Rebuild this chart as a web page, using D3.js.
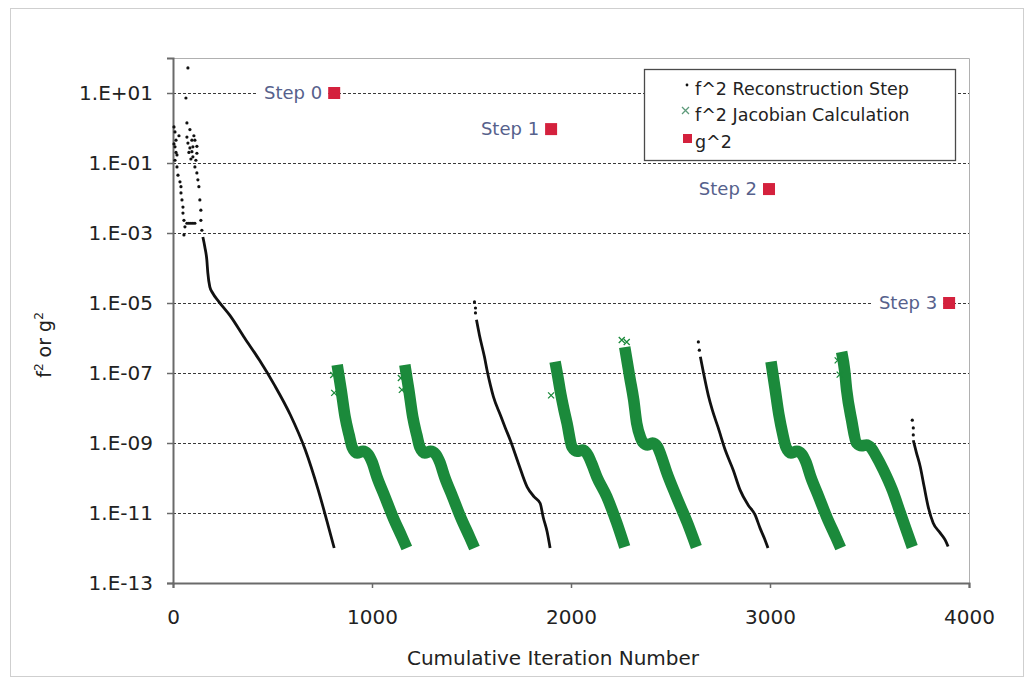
<!DOCTYPE html>
<html>
<head>
<meta charset="utf-8">
<script src="https://cdn.jsdelivr.net/npm/d3@7"></script>
<style>
  body { margin: 0; background: #fff; }
  text { font-family: "DejaVu Sans", sans-serif; }
</style>
</head>
<body>
<div id="chart"></div>
<script>
// ---- data: [iteration, value] ----
var reconNoise = [
  [75, 52], [65, 7.2], [70, 1.4],
  [5, 1.07], [10, 0.77], [15, 0.45], [5, 0.35], [10, 0.29], [15, 0.2], [20, 0.17], [10, 0.12],
  [30, 0.6], [20, 0.077], [25, 0.045], [35, 0.029], [40, 0.021], [40, 0.014], [45, 8.8e-3],
  [50, 5.5e-3], [50, 3.7e-3], [55, 2.3e-3], [60, 1.5e-3], [55, 8.8e-4],
  [70, 1.9e-3], [80, 1.9e-3], [90, 1.9e-3], [100, 1.9e-3], [110, 1.9e-3],
  [70, 0.55], [75, 0.37], [85, 0.27], [95, 0.21], [100, 0.15], [110, 0.45], [115, 0.12],
  [100, 0.29], [95, 0.45], [120, 0.19], [85, 0.9], [105, 0.6], [90, 0.13], [80, 0.2],
  [120, 0.3], [110, 0.077], [120, 0.052], [125, 0.033], [130, 0.021], [135, 8.8e-3],
  [140, 4.5e-3], [140, 2.3e-3], [145, 1.2e-3],
  [1515, 1.07e-5], [1520, 7.2e-6], [1520, 5.2e-6],
  [2640, 7.7e-7], [2645, 4.5e-7],
  [3715, 4.5e-9], [3720, 2.7e-9], [3720, 1.7e-9]
];

var reconStep0 = [[150, 7.7e-4], [160, 4.0e-4], [170, 1.7e-4], [175, 7.2e-5], [185, 2.9e-5],
  [200, 1.9e-5], [230, 1.1e-5], [285, 4.5e-6], [360, 1.0e-6], [435, 2.3e-7],
  [510, 4.5e-8], [590, 6.3e-9], [665, 6.3e-10], [730, 4.5e-11], [780, 4.3e-12], [810, 1e-12]];
var reconStep1 = [[1525, 3.3e-6], [1540, 1.2e-6], [1565, 2.9e-7], [1580, 1.07e-7], [1595, 4.5e-8],
  [1610, 2.1e-8], [1645, 6.3e-9], [1670, 2.7e-9], [1695, 1.2e-9], [1735, 2.7e-10], [1780, 5.5e-11],
  [1815, 2.9e-11], [1845, 1.9e-11], [1860, 7.7e-12], [1880, 2.9e-12], [1895, 1e-12]];
var reconStep2 = [[2650, 2.9e-7], [2665, 1.07e-7], [2690, 2.3e-8], [2710, 8.8e-9], [2740, 2.7e-9],
  [2775, 6.3e-10], [2815, 1.7e-10], [2850, 4.5e-11], [2890, 1.7e-11], [2925, 8.8e-12],
  [2950, 3.7e-12], [2975, 1.7e-12], [2990, 1e-12]];
var reconStep3 = [[3720, 1.2e-9], [3735, 5.5e-10], [3755, 2.1e-10], [3775, 5.5e-11], [3795, 1.5e-11],
  [3820, 5.2e-12], [3855, 2.7e-12], [3880, 1.7e-12], [3895, 1.1e-12]];

var jac1 = [[825, 1.7e-7], [845, 3.3e-8], [865, 5.5e-9], [885, 1.7e-9], [900, 7.7e-10], [925, 5.2e-10],
  [955, 5.8e-10], [980, 4.8e-10], [1000, 2.9e-10], [1025, 1.07e-10], [1065, 2.9e-11], [1105, 7.7e-12],
  [1150, 2.1e-12], [1175, 1e-12]];
var jac2 = [[1165, 1.7e-7], [1185, 3.3e-8], [1205, 5.5e-9], [1225, 1.7e-9], [1240, 7.7e-10], [1265, 5.2e-10],
  [1295, 5.8e-10], [1320, 4.8e-10], [1340, 2.9e-10], [1365, 1.07e-10], [1405, 2.9e-11], [1445, 7.7e-12],
  [1490, 2.1e-12], [1515, 1e-12]];
var jac3 = [[1920, 2.1e-7], [1935, 7.2e-8], [1945, 3.3e-8], [1965, 8.8e-9], [1980, 3.7e-9], [2005, 7.7e-10],
  [2030, 5.8e-10], [2060, 6.3e-10], [2085, 4.5e-10], [2105, 2.5e-10], [2130, 1.07e-10], [2180, 2.9e-11],
  [2230, 5.2e-12], [2270, 1.07e-12]];
var jac4 = [[2270, 5.5e-7], [2285, 1.7e-7], [2295, 7.7e-8], [2315, 1.7e-8], [2330, 3.7e-9], [2350, 1.4e-9],
  [2360, 1.07e-9], [2385, 8.8e-10], [2410, 1.0e-9], [2435, 7.7e-10], [2455, 4.0e-10], [2480, 1.5e-10],
  [2530, 2.9e-11], [2585, 5.2e-12], [2630, 1.07e-12]];
var jac5 = [[3005, 2.1e-7], [3025, 3.7e-8], [3045, 6.3e-9], [3065, 1.7e-9], [3080, 7.7e-10], [3105, 5.2e-10],
  [3135, 5.8e-10], [3160, 4.8e-10], [3180, 2.9e-10], [3205, 1.07e-10], [3245, 2.9e-11], [3285, 7.7e-12],
  [3330, 2.1e-12], [3355, 1e-12]];
var jac6 = [[3360, 4.0e-7], [3375, 1.2e-7], [3385, 3.3e-8], [3410, 4.5e-9], [3435, 1.0e-9], [3460, 8.3e-10],
  [3485, 8.8e-10], [3510, 7.0e-10], [3530, 4.6e-10], [3570, 1.7e-10], [3615, 4.5e-11], [3655, 1e-11],
  [3690, 2.7e-12], [3715, 1.07e-12]];
var jacNoise = [[805, 8.8e-8], [810, 2.7e-8], [1145, 7.2e-8], [1150, 3.3e-8], [1900, 2.3e-8],
  [2255, 8.8e-7], [2280, 7.7e-7], [3340, 2.3e-7], [3350, 9e-8]];

var stepNames = ["Step 0", "Step 1", "Step 2", "Step 3"];
var stepIter = [810, 1900, 2995, 3900];
var stepG2 = [10, 0.93, 1.8e-2, 1.0e-5];

var yTicks = [1e1, 1e-1, 1e-3, 1e-5, 1e-7, 1e-9, 1e-11, 1e-13];
var xTicks = [0, 1000, 2000, 3000, 4000];
var legendNames = ["f^2 Reconstruction Step", "f^2 Jacobian Calculation", "g^2"];

// ---- layout ----
var W = 1030, H = 681;
var plotL = 173, plotR = 969, plotT = 58, plotB = 583;
var green = "#1b8a3b", red = "#d4213d", labelBlue = "#56618c";

var svg = d3.select("#chart").append("svg")
    .attr("width", W).attr("height", H);

// outer chart border
svg.append("rect")
    .attr("x", 10.5).attr("y", 8.5)
    .attr("width", 1013).attr("height", 668)
    .attr("fill", "none").attr("stroke", "#cfcfcf");

var x = d3.scaleLinear().domain([0, 4000]).range([plotL, plotR]);
var y = d3.scaleLog().domain([1e-13, 1e2]).range([plotB, plotT]);

function fmtE(v) {
    var e = Math.round(Math.log10(v));
    var s = Math.abs(e) < 10 ? "0" + Math.abs(e) : "" + Math.abs(e);
    return "1.E" + (e >= 0 ? "+" : "-") + s;
}

// plot frame top/right
svg.append("path")
    .attr("d", `M${plotL},${plotT + 0.5}H${plotR + 0.5}V${plotB}`)
    .attr("fill", "none").attr("stroke", "#b0b0b0");

// dashed gridlines
svg.append("g")
    .selectAll("line")
    .data(yTicks.filter(d => d > 1e-13))
    .enter().append("line")
    .attr("x1", plotL).attr("x2", plotR)
    .attr("y1", d => Math.round(y(d)) + 0.5)
    .attr("y2", d => Math.round(y(d)) + 0.5)
    .attr("stroke", "#3a3a3a")
    .attr("stroke-dasharray", "3,2");

// axes
var yAxis = svg.append("g")
    .attr("transform", `translate(${plotL},0)`)
    .call(d3.axisLeft(y).tickValues(yTicks).tickFormat(fmtE).tickSize(6).tickPadding(14));
var xAxis = svg.append("g")
    .attr("transform", `translate(0,${plotB})`)
    .call(d3.axisBottom(x).tickValues(xTicks).tickFormat(d3.format("d")).tickSize(5).tickPadding(22));

[yAxis, xAxis].forEach(function (a) {
    a.select(".domain").attr("stroke", "#6a6a6a").attr("stroke-width", 2);
    a.selectAll(".tick line").attr("stroke", "#6a6a6a").attr("stroke-width", 1.5);
    a.selectAll("text").attr("font-size", 20).attr("fill", "#222")
        .attr("font-family", "DejaVu Sans, sans-serif");
});

// axis titles
svg.append("text")
    .attr("x", 553).attr("y", 665)
    .attr("text-anchor", "middle")
    .attr("font-size", 20).attr("fill", "#222")
    .text("Cumulative Iteration Number");

var yt = svg.append("text")
    .attr("transform", "translate(51,345) rotate(-90)")
    .attr("text-anchor", "middle")
    .attr("font-size", 19).attr("fill", "#222");
yt.append("tspan").text("f");
yt.append("tspan").attr("font-size", 12).attr("dy", -8).text("2");
yt.append("tspan").attr("dy", 8).text(" or g");
yt.append("tspan").attr("font-size", 12).attr("dy", -8).text("2");

// series
var line = d3.line().x(d => x(d[0])).y(d => y(d[1])).curve(d3.curveMonotoneX);
var plot = svg.append("g");

[jac1, jac2, jac3, jac4, jac5, jac6].forEach(function (seg) {
    plot.append("path")
        .attr("d", line(seg))
        .attr("fill", "none")
        .attr("stroke", green)
        .attr("stroke-width", 11.5)
        .attr("stroke-linejoin", "round");
});

plot.selectAll(".jn")
    .data(jacNoise)
    .enter().append("path")
    .attr("class", "jn")
    .attr("d", d => `M${x(d[0]) - 3},${y(d[1]) - 3}l6,6m0,-6l-6,6`)
    .attr("stroke", green).attr("stroke-width", 1.3);

[reconStep0, reconStep1, reconStep2, reconStep3].forEach(function (seg) {
    plot.append("path")
        .attr("d", line(seg))
        .attr("fill", "none")
        .attr("stroke", "#111")
        .attr("stroke-width", 2.8)
        .attr("stroke-linejoin", "round");
});

plot.selectAll(".rn")
    .data(reconNoise)
    .enter().append("circle")
    .attr("class", "rn")
    .attr("cx", d => x(d[0]))
    .attr("cy", d => y(d[1]))
    .attr("r", 1.6)
    .attr("fill", "#111");

// g^2 markers + step labels
var steps = svg.append("g")
    .selectAll("g")
    .data(stepNames.map((n, i) => ({ name: n, it: stepIter[i], g: stepG2[i] })))
    .enter().append("g");

steps.append("rect").attr("class", "bg");
steps.append("text")
    .attr("x", d => x(d.it) - 12)
    .attr("y", d => y(d.g))
    .attr("dy", "0.35em")
    .attr("text-anchor", "end")
    .attr("font-size", 18)
    .attr("fill", labelBlue)
    .text(d => d.name);
steps.each(function () {
    var g = d3.select(this);
    var b = g.select("text").node().getBBox();
    g.select("rect.bg")
        .attr("x", b.x - 6).attr("y", b.y)
        .attr("width", b.width + 12).attr("height", b.height)
        .attr("fill", "#fff");
});
steps.append("rect")
    .attr("x", d => x(d.it) - 6)
    .attr("y", d => y(d.g) - 6)
    .attr("width", 12).attr("height", 12)
    .attr("fill", red);

// legend
var lg = svg.append("g").attr("transform", "translate(644,69)");
lg.append("rect")
    .attr("x", 0.5).attr("y", 0.5)
    .attr("width", 311).attr("height", 91)
    .attr("fill", "#fff").attr("stroke", "#4a4a4a").attr("stroke-width", 1.3);
var rowsY = [20, 46, 73];
lg.selectAll("text")
    .data(legendNames)
    .enter().append("text")
    .attr("x", 51).attr("y", (d, i) => rowsY[i])
    .attr("dy", "0.35em")
    .attr("font-size", 17.5).attr("fill", "#222")
    .text(d => d);
lg.append("circle").attr("cx", 43).attr("cy", 16).attr("r", 1.4).attr("fill", "#111");
lg.append("path").attr("d", "M38,38l7,7m0,-7l-7,7")
    .attr("stroke", "#5d9a7a").attr("stroke-width", 1.3);
lg.append("rect").attr("x", 39).attr("y", 65).attr("width", 9).attr("height", 9).attr("fill", red);
</script>
</body>
</html>
